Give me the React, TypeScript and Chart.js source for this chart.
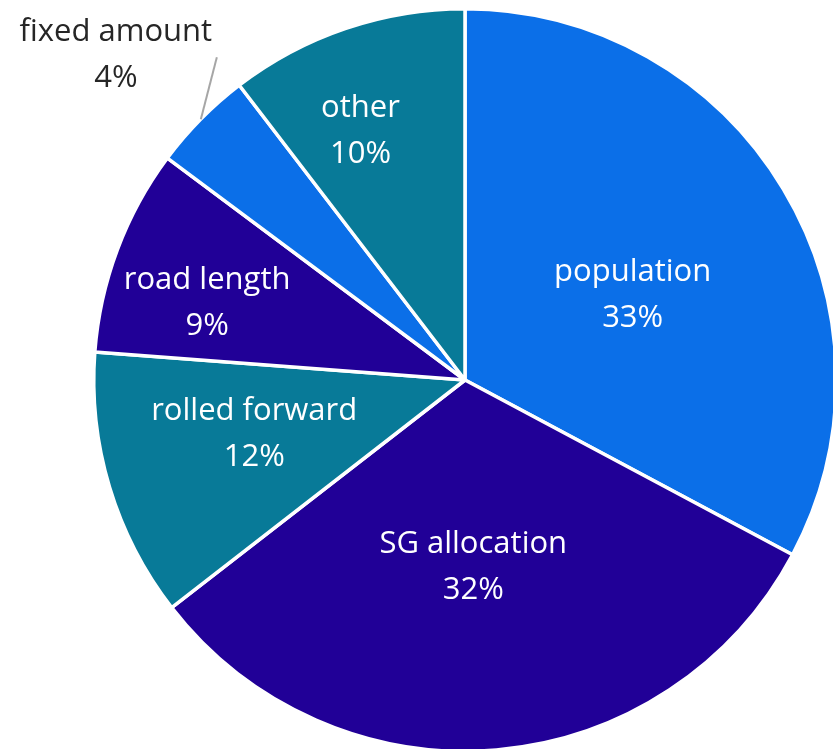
import React, { useEffect, useRef } from "react";
import { Chart, registerables } from "chart.js";

Chart.register(...registerables);

const categories = ["population", "SG allocation", "rolled forward", "road length", "fixed amount", "other"];
const shares = [32.8, 31.7, 11.7, 9.0, 4.4, 10.4];
const sliceColors = ["#0B6FE8", "#210097", "#087A98", "#210097", "#0B6FE8", "#087A98"];
// label placement: fraction of radius and angle nudge (degrees); null = outside label with leader line
const labelRadius: (number | null)[] = [0.509, 0.498, 0.585, 0.726, null, 0.732];
const labelNudge = [3.5, 2.3, 2.8, -3.6, 0, -3.9];

const FONT = '31px "Open Sans", "Liberation Sans", sans-serif';
const LINE_GAP = 46;

const labelPlugin = {
  id: "sliceLabels",
  afterDatasetsDraw(chart: any) {
    const ctx = chart.ctx as CanvasRenderingContext2D;
    const meta = chart.getDatasetMeta(0);
    const total = shares.reduce((a, b) => a + b, 0);
    ctx.save();
    ctx.font = FONT;
    ctx.textAlign = "center";
    ctx.textBaseline = "middle";
    meta.data.forEach((arc: any, i: number) => {
      const { x, y, startAngle, endAngle, outerRadius } = arc.getProps(
        ["x", "y", "startAngle", "endAngle", "outerRadius"],
        true
      );
      const mid = (startAngle + endAngle) / 2;
      const pct = Math.round((shares[i] / total) * 100) + "%";
      const f = labelRadius[i];
      if (f !== null) {
        const a = mid + (labelNudge[i] * Math.PI) / 180;
        const cx = x + Math.cos(a) * outerRadius * f;
        const cy = y + Math.sin(a) * outerRadius * f + 2;
        ctx.fillStyle = "#FFFFFF";
        ctx.fillText(categories[i], cx, cy - LINE_GAP / 2);
        ctx.fillText(pct, cx, cy + LINE_GAP / 2);
      } else {
        const sx = x + Math.cos(mid) * outerRadius;
        const sy = y + Math.sin(mid) * outerRadius;
        const ex = sx + 16;
        const ey = sy - 62;
        ctx.strokeStyle = "#A6A6A6";
        ctx.lineWidth = 2;
        ctx.beginPath();
        ctx.moveTo(sx, sy);
        ctx.lineTo(ex, ey);
        ctx.stroke();
        const tx = ex - 101;
        const ty = ey - 2;
        ctx.fillStyle = "#262626";
        ctx.fillText(categories[i], tx, ty - LINE_GAP / 2);
        ctx.fillText(pct, tx, ty + LINE_GAP / 2);
      }
    });
    ctx.restore();
  },
};

export default function App() {
  const ref = useRef<HTMLCanvasElement | null>(null);
  useEffect(() => {
    if (!ref.current) return;
    const chart = new Chart(ref.current, {
      type: "pie",
      data: {
        labels: categories,
        datasets: [
          {
            data: shares,
            backgroundColor: sliceColors,
            borderColor: "#FFFFFF",
            borderWidth: 3.5,
          },
        ],
      },
      options: {
        responsive: false,
        animation: false,
        layout: { padding: { left: 92, top: 7, right: 2, bottom: 7 } },
        plugins: {
          legend: { display: false },
          tooltip: { enabled: false },
        },
      },
      plugins: [labelPlugin],
    });
    return () => chart.destroy();
  }, []);
  return (
    <div
      style={{
        position: "fixed",
        left: 0,
        top: 0,
        width: 833,
        height: 749,
        overflow: "hidden",
        background: "#FFFFFF",
      }}
    >
      <canvas ref={ref} width={840} height={760} style={{ display: "block" }} />
    </div>
  );
}
